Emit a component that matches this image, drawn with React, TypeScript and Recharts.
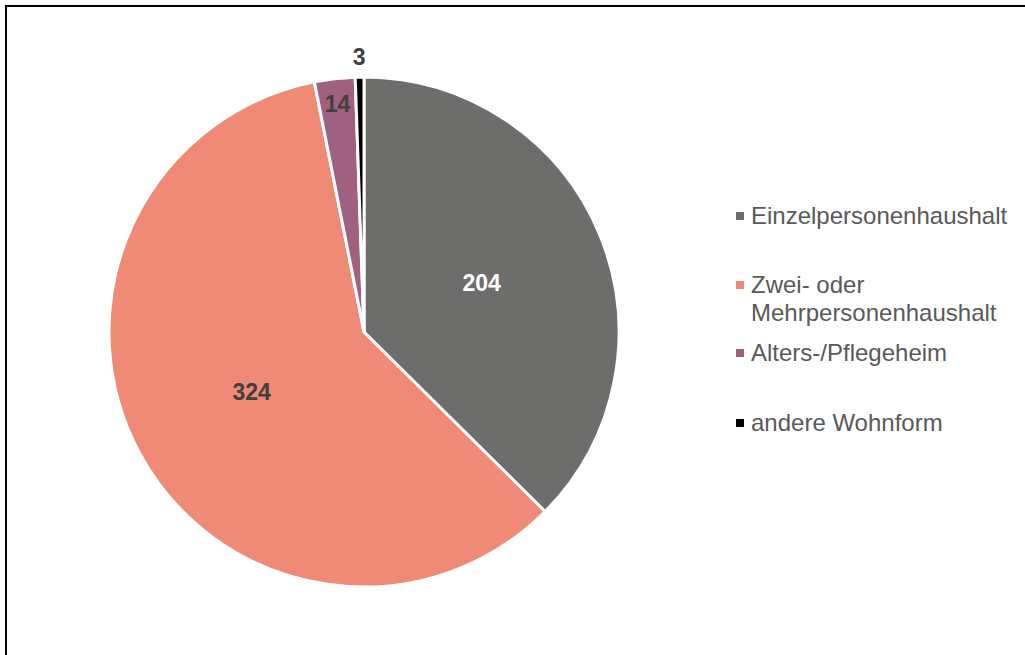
import { PieChart, Pie, Cell, Legend } from 'recharts';

const categories = ['Einzelpersonenhaushalt', 'Zwei- oder Mehrpersonenhaushalt', 'Alters-/Pflegeheim', 'andere Wohnform'];
const values = [204, 324, 14, 3];
const COLORS = ['#6d6d6b', '#ee8a75', '#a0607f', '#000000'];
// legend rows: text lines and top offset of each item
const legendLines = [['Einzelpersonenhaushalt'], ['Zwei- oder', 'Mehrpersonenhaushalt'], ['Alters-/Pflegeheim'], ['andere Wohnform']];
const legendGaps = [0, 41, 12, 42];

const data = categories.map((name, i) => ({ name, value: values[i] }));

const RAD = Math.PI / 180;

function renderLabel(props: any) {
  const { cx, cy, midAngle, outerRadius, index, value } = props;
  const factor = index < 2 ? 0.5 : index === 2 ? 0.9 : 1.08;
  const r = outerRadius * factor;
  const x = cx + r * Math.cos(-midAngle * RAD);
  const y = cy + r * Math.sin(-midAngle * RAD);
  return (
    <text
      x={x}
      y={y}
      fill={index === 0 ? '#ffffff' : '#404040'}
      textAnchor="middle"
      dominantBaseline="central"
      fontSize={23}
      fontWeight="bold"
      fontFamily="'Liberation Sans', Arial, sans-serif"
    >
      {value}
    </text>
  );
}

function LegendContent() {
  return (
    <div style={{ fontFamily: "'Liberation Sans', Arial, sans-serif", fontSize: 24, color: '#595959', lineHeight: '28px' }}>
      {legendLines.map((lines, i) => (
        <div key={i} style={{ display: 'flex', marginTop: legendGaps[i] }}>
          <div style={{ width: 8, height: 8, background: COLORS[i], marginTop: 10, marginRight: 7, flexShrink: 0 }} />
          <div>
            {lines.map((l, j) => (
              <div key={j}>{l}</div>
            ))}
          </div>
        </div>
      ))}
    </div>
  );
}

export default function App() {
  return (
    <div style={{ position: 'absolute', left: 0, top: 0, width: 1025, height: 655, background: '#fff' }}>
      <div style={{ position: 'absolute', left: 5, top: 5, width: 1030, height: 660, border: '2px solid #000', boxSizing: 'border-box' }} />
      <PieChart width={1025} height={655} margin={{ top: 0, right: 0, bottom: 0, left: 0 }}>
        <Pie
          data={data}
          dataKey="value"
          nameKey="name"
          cx={364}
          cy={332}
          outerRadius={255}
          startAngle={90}
          endAngle={-270}
          stroke="#ffffff"
          strokeWidth={3}
          label={renderLabel}
          labelLine={false}
          isAnimationActive={false}
        >
          {data.map((_, i) => (
            <Cell key={i} fill={COLORS[i]} />
          ))}
        </Pie>
        <Legend content={<LegendContent />} wrapperStyle={{ left: 736, top: 202, width: 289 }} />
      </PieChart>
    </div>
  );
}
